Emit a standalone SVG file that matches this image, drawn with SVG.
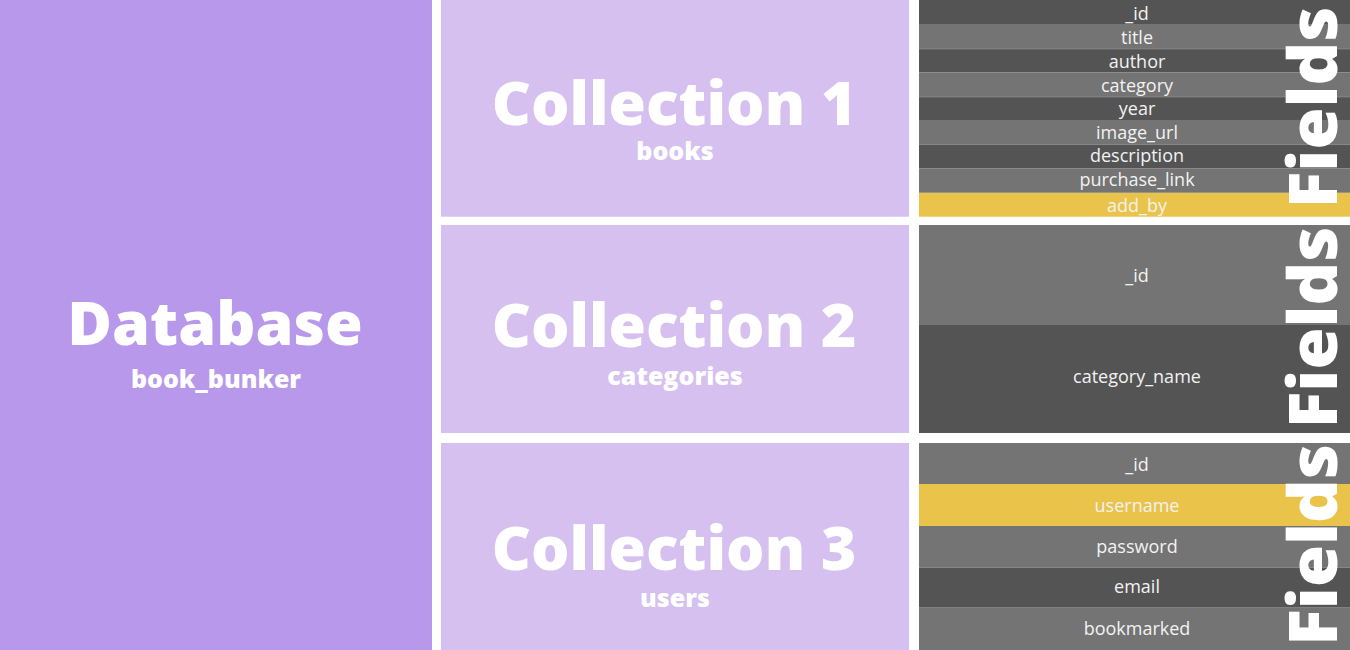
<svg xmlns="http://www.w3.org/2000/svg" width="1350" height="650" viewBox="0 0 1350 650">
<style>
.db{fill:#B898EB}
.col{fill:#D5C0F0}
.dk{fill:#545454}
.lt{fill:#747474}
.yl{fill:#E9C34A}
.sep{fill:#8A8A8A}
.big{font-family:"Open Sans","Liberation Sans",sans-serif;font-weight:800;fill:#FFFFFF;text-anchor:middle}
.sub{font-family:"Open Sans","Liberation Sans",sans-serif;font-weight:800;fill:#FFFFFF;text-anchor:middle;font-size:25px}
.fld{font-family:"Open Sans","Liberation Sans",sans-serif;font-weight:400;fill:#F2F2F2;text-anchor:middle;font-size:18px}
.vert{font-family:"Open Sans","Liberation Sans",sans-serif;font-weight:800;fill:#FFFFFF;text-anchor:middle;font-size:68px}
</style>
<rect width="1350" height="650" fill="#FFFFFF"/>
<g id="database">
<rect class="db" x="0" y="0" width="432" height="650"/>
<text class="big" x="215" y="345" font-size="61">Database</text>
<text class="sub" x="216" y="388" font-size="26">book_bunker</text>
</g>
<g id="collection1">
<rect class="col" x="441" y="0" width="468" height="216.7"/>
<text class="big" x="674" y="125" font-size="60.5">Collection 1</text>
<text class="sub" x="675" y="160">books</text>
</g>
<g id="collection2">
<rect class="col" x="441" y="225" width="468" height="208"/>
<text class="big" x="674" y="347" font-size="60.5">Collection 2</text>
<text class="sub" x="675" y="385">categories</text>
</g>
<g id="collection3">
<rect class="col" x="441" y="443" width="468" height="207"/>
<text class="big" x="674" y="570" font-size="60.5">Collection 3</text>
<text class="sub" x="675" y="607">users</text>
</g>
<g id="fields1">
<rect class="dk" x="919" y="0" width="431" height="24"/>
<rect class="lt" x="919" y="24" width="431" height="25"/>
<rect class="dk" x="919" y="49" width="431" height="23.3"/>
<rect class="lt" x="919" y="72.3" width="431" height="24.7"/>
<rect class="dk" x="919" y="97" width="431" height="23"/>
<rect class="lt" x="919" y="120" width="431" height="24.3"/>
<rect class="dk" x="919" y="144.3" width="431" height="24"/>
<rect class="lt" x="919" y="168.3" width="431" height="24.2"/>
<rect class="yl" x="919" y="192.5" width="431" height="24.2"/>
<rect class="sep" x="919" y="48.5" width="431" height="0.8"/>
<rect class="sep" x="919" y="96.5" width="431" height="0.8"/>
<rect class="sep" x="919" y="144" width="431" height="0.8"/>
<rect class="sep" x="919" y="168" width="431" height="0.8"/>
<rect class="sep" x="919" y="192.2" width="431" height="0.8"/>
<text class="fld" x="1137" y="20">_id</text>
<text class="fld" x="1137" y="44">title</text>
<text class="fld" x="1137" y="68">author</text>
<text class="fld" x="1137" y="92">category</text>
<text class="fld" x="1137" y="115">year</text>
<text class="fld" x="1137" y="139">image_url</text>
<text class="fld" x="1137" y="162">description</text>
<text class="fld" x="1137" y="186">purchase_link</text>
<text class="fld" x="1137" y="212">add_by</text>
<text class="vert" transform="translate(1337 107.5) rotate(-90)">Fields</text>
</g>
<g id="fields2">
<rect class="lt" x="919" y="225" width="431" height="100"/>
<rect class="dk" x="919" y="325" width="431" height="108"/>
<text class="fld" x="1137" y="282">_id</text>
<text class="fld" x="1137" y="383">category_name</text>
<text class="vert" transform="translate(1337 327.5) rotate(-90)">Fields</text>
</g>
<g id="fields3">
<rect class="lt" x="919" y="443" width="431" height="41"/>
<rect class="yl" x="919" y="484" width="431" height="42"/>
<rect class="lt" x="919" y="526" width="431" height="41.7"/>
<rect class="dk" x="919" y="567.7" width="431" height="40"/>
<rect class="lt" x="919" y="607.7" width="431" height="42.3"/>
<text class="fld" x="1137" y="471">_id</text>
<text class="fld" x="1137" y="512">username</text>
<text class="fld" x="1137" y="553">password</text>
<text class="fld" x="1137" y="593">email</text>
<text class="fld" x="1137" y="635">bookmarked</text>
<text class="vert" transform="translate(1337 545) rotate(-90)">Fields</text>
</g>
<g id="connectors"></g>
</svg>
